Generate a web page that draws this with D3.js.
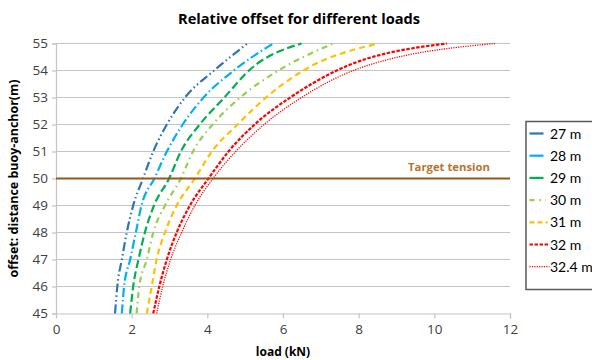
<!DOCTYPE html>
<html>
<head>
<meta charset="utf-8">
<script src="https://cdn.jsdelivr.net/npm/d3@7"></script>
<style>
  html, body { margin: 0; padding: 0; background: #fff; }
  svg { display: block; font-family: "Open Sans", "Noto Sans", "Liberation Sans", sans-serif; }
</style>
</head>
<body>
<svg id="chart" width="592" height="360"></svg>
<script>
// Offset levels (m) shared by every series
const offsets = [45, 46, 47, 48, 49, 50, 51, 52, 53, 54, 55];

// Load (kN) needed to reach each offset, per line length
const seriesNames = ["27 m", "28 m", "29 m", "30 m", "31 m", "32 m", "32.4 m"];
const loads27  = [1.56, 1.62, 1.74, 1.87, 2.04, 2.30, 2.57, 2.93, 3.41, 4.18, 5.06];
const loads28  = [1.74, 1.80, 1.96, 2.11, 2.26, 2.60, 2.93, 3.35, 3.90, 4.70, 5.74];
const loads29  = [1.96, 2.04, 2.18, 2.35, 2.59, 2.99, 3.30, 3.80, 4.45, 5.10, 6.49];
const loads30  = [2.13, 2.20, 2.40, 2.57, 2.88, 3.30, 3.62, 4.14, 4.87, 5.88, 7.33];
const loads31  = [2.40, 2.53, 2.66, 2.88, 3.19, 3.67, 4.12, 4.80, 5.55, 6.54, 8.52];
const loads32  = [2.57, 2.73, 2.93, 3.19, 3.54, 4.03, 4.56, 5.25, 6.19, 7.42, 10.33];
const loads324 = [2.66, 2.82, 3.03, 3.32, 3.67, 4.15, 4.75, 5.50, 6.49, 7.86, 11.60];

const targetOffset = 50;
const targetLabel = "Target  tension";

const xTicks = [0, 2, 4, 6, 8, 10, 12];
const yTicks = [45, 46, 47, 48, 49, 50, 51, 52, 53, 54, 55];

// Styling per series
const colors = ["#2E75B6", "#00B0F0", "#00B050", "#92D050", "#FFC000", "#FF0000", "#FF0000"];
const dashes = ["9,3,1.5,3,1.5,3", "9,3,1.5,3", "8,3.5", "6,4,1.5,4", "6,4", "3.5,1.5", "1.2,1.2"];
const widths = [2.2, 2.2, 2.2, 2.2, 2.2, 2.2, 1.3];
const legendDashes = [null, null, null, "5,5,1.5,4", "5,3", "3.5,1.5", "1.2,1.2"];
const legendLens = [14, 14, 14, 16, 18, 19, 20];

const allLoads = [loads27, loads28, loads29, loads30, loads31, loads32, loads324];
const series = seriesNames.map((name, i) => ({
  name,
  points: offsets.map((o, j) => ({ x: allLoads[i][j], y: o }))
}));

const svg = d3.select("#chart");
const margin = { left: 56, right: 82, top: 43.5, bottom: 46.5 };
const W = 592, H = 360;
const x = d3.scaleLinear().domain([0, 12]).range([margin.left, W - margin.right]);
const y = d3.scaleLinear().domain([45, 55]).range([H - margin.bottom, margin.top]);

// Title
svg.append("text")
  .attr("x", 299).attr("y", 24)
  .attr("text-anchor", "middle")
  .attr("font-size", 15).attr("font-weight", "bold").attr("fill", "#000")
  .attr("textLength", 242).attr("lengthAdjust", "spacingAndGlyphs")
  .text("Relative offset for different loads");

// Horizontal gridlines
svg.append("g").selectAll("line").data(yTicks.slice(1)).join("line")
  .attr("x1", x(0)).attr("x2", x(12))
  .attr("y1", d => y(d)).attr("y2", d => y(d))
  .attr("stroke", "#c4c4c4").attr("stroke-width", 1.2);

// Axes
const xAxis = svg.append("g")
  .attr("transform", `translate(0,${y(45)})`)
  .call(d3.axisBottom(x).tickValues(xTicks).tickSize(5).tickPadding(6).tickFormat(d3.format("d")));
const yAxis = svg.append("g")
  .attr("transform", `translate(${x(0)},0)`)
  .call(d3.axisLeft(y).tickValues(yTicks).tickSize(4).tickPadding(4).tickFormat(d3.format("d")));
[xAxis, yAxis].forEach(g => {
  g.select(".domain").attr("stroke", "#c4c4c4").attr("stroke-width", 1.2);
  g.selectAll(".tick line").attr("stroke", "#c4c4c4").attr("stroke-width", 1.2);
  g.selectAll(".tick text").attr("fill", "#404040").attr("font-size", 13.5)
    .attr("font-family", "'Open Sans', 'Noto Sans', sans-serif");
});
xAxis.selectAll(".tick").filter(d => d === 0).select("line").remove();

// Axis titles
svg.append("text")
  .attr("transform", `translate(18,${y(50)}) rotate(-90)`)
  .attr("text-anchor", "middle")
  .attr("font-size", 12).attr("font-weight", "bold").attr("fill", "#000")
  .attr("textLength", 198).attr("lengthAdjust", "spacingAndGlyphs")
  .text("offset: distance buoy-anchor(m)");
svg.append("text")
  .attr("x", x(6)).attr("y", 356)
  .attr("text-anchor", "middle")
  .attr("font-size", 12).attr("font-weight", "bold").attr("fill", "#000")
  .text("load (kN)");

// Curves
svg.append("clipPath").attr("id", "plot")
  .append("rect").attr("x", x(0)).attr("y", y(55) - 2)
  .attr("width", x(12) - x(0)).attr("height", y(45) - y(55) + 4);
const line = d3.line().x(d => x(d.x)).y(d => y(d.y)).curve(d3.curveMonotoneX);
svg.append("g").attr("clip-path", "url(#plot)")
  .selectAll("path").data(series).join("path")
  .attr("d", d => line(d.points))
  .attr("fill", "none")
  .attr("stroke", (d, i) => colors[i])
  .attr("stroke-width", (d, i) => widths[i])
  .attr("stroke-dasharray", (d, i) => dashes[i]);

// Target tension line
svg.append("line")
  .attr("x1", x(0)).attr("x2", x(12))
  .attr("y1", y(targetOffset)).attr("y2", y(targetOffset))
  .attr("stroke", "#9C5418").attr("stroke-width", 2.2);
svg.append("text")
  .attr("x", 449).attr("y", y(targetOffset) - 8)
  .attr("text-anchor", "middle")
  .attr("font-size", 11).attr("font-weight", "bold").attr("fill", "#B8732E")
  .attr("textLength", 82).attr("lengthAdjust", "spacingAndGlyphs")
  .text(targetLabel);

// Legend
const lg = svg.append("g");
lg.append("rect")
  .attr("x", 526).attr("y", 121.5).attr("width", 80).attr("height", 168)
  .attr("fill", "#fff").attr("stroke", "#595959").attr("stroke-width", 1.5);
const items = lg.selectAll("g.item").data(series).join("g")
  .attr("class", "item")
  .attr("transform", (d, i) => `translate(0,${133.5 + i * 22.2})`);
items.append("line")
  .attr("x1", 529.5).attr("x2", (d, i) => 529.5 + legendLens[i])
  .attr("y1", 0).attr("y2", 0)
  .attr("stroke", (d, i) => colors[i])
  .attr("stroke-width", (d, i) => widths[i])
  .attr("stroke-dasharray", (d, i) => legendDashes[i]);
items.append("text")
  .attr("x", 550).attr("y", 5)
  .attr("font-size", 14).attr("fill", "#000")
  .attr("font-family", "Lato, 'Open Sans', sans-serif")
  .text(d => d.name);
</script>
</body>
</html>
